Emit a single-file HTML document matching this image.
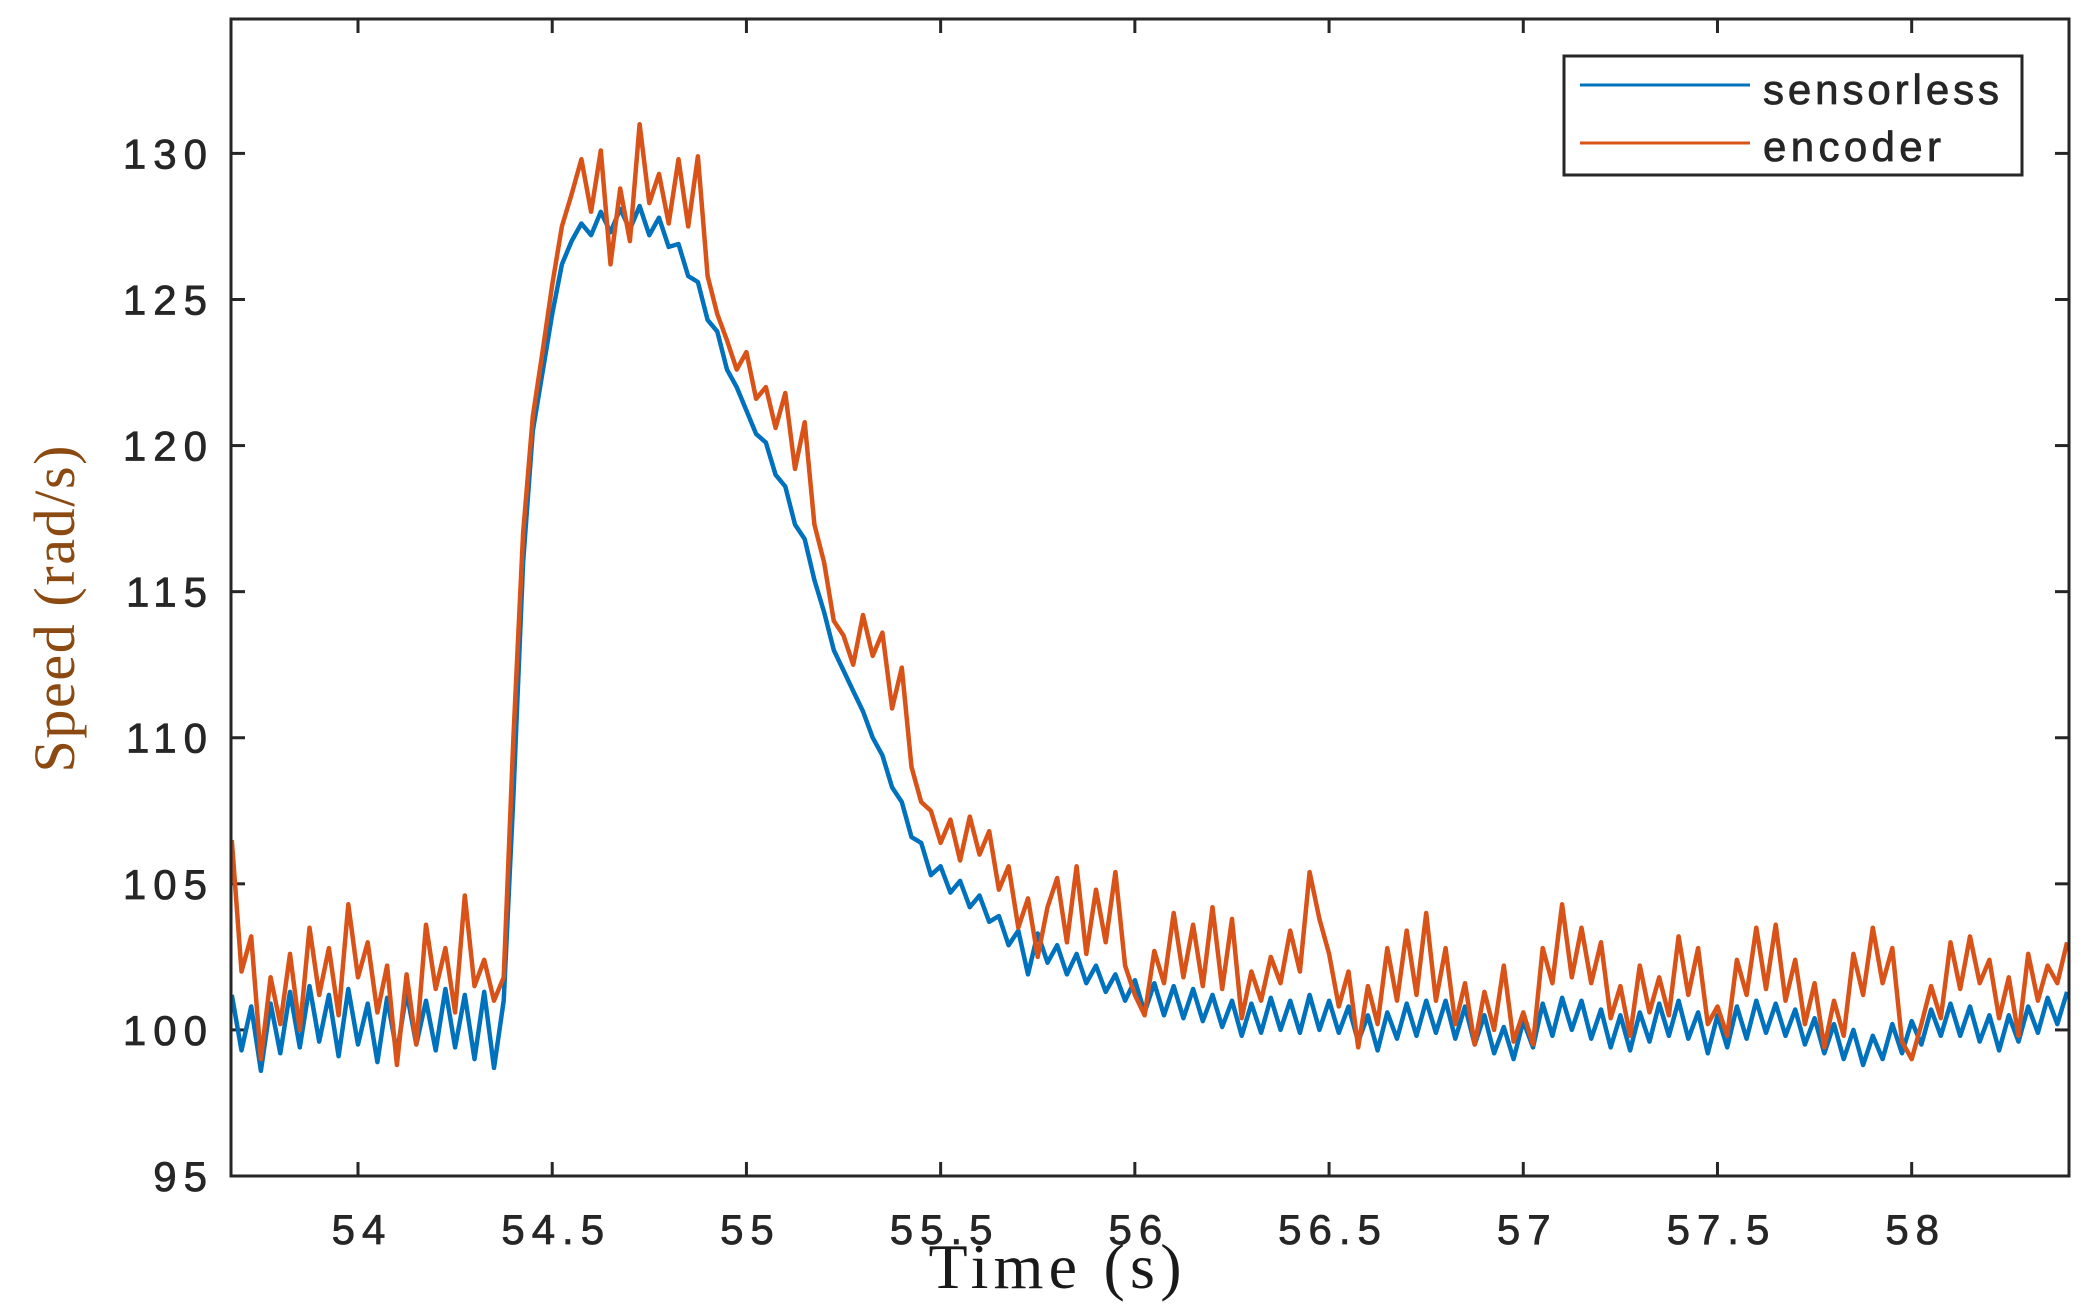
<!DOCTYPE html>
<html><head><meta charset="utf-8"><style>
html,body{margin:0;padding:0;background:#fff;}
svg{display:block;}
.tk{font-family:"Liberation Sans",sans-serif;font-size:42px;fill:#262626;stroke:#262626;stroke-width:0.8px;letter-spacing:7px;}
</style></head><body>
<svg id="chart" width="2083" height="1312" viewBox="0 0 2083 1312" xmlns="http://www.w3.org/2000/svg">
<rect x="0" y="0" width="2083" height="1312" fill="#fff"/>
<g id="ticks"></g>
<g id="series"></g>
<rect x="231" y="19" width="1838" height="1157" fill="none" stroke="#262626" stroke-width="3"/>
<g>
<rect x="1564" y="56" width="458" height="119" fill="#fff" stroke="#262626" stroke-width="3"/>
<line x1="1580" y1="85" x2="1750" y2="85" stroke="#0072BD" stroke-width="3"/>
<text x="1763" y="104" class="tk" style="letter-spacing:2px" textLength="238">sensorless</text>
<line x1="1580" y1="143" x2="1750" y2="143" stroke="#D95319" stroke-width="3"/>
<text x="1763" y="161" class="tk" style="letter-spacing:2px" textLength="180">encoder</text>
</g>
<text transform="translate(74,609) rotate(-90)" text-anchor="middle" font-family="Liberation Serif,serif" font-size="58" fill="#8a4a12" textLength="327">Speed (rad/s)</text>
<text x="1055" y="1288" text-anchor="middle" font-family="Liberation Serif,serif" font-size="64" fill="#1a1a1a" textLength="253">Time (s)</text>
</svg>
<script>
const xTicks=[54,54.5,55,55.5,56,56.5,57,57.5,58];
const xTickLabels=["54","54.5","55","55.5","56","56.5","57","57.5","58"];
const yTicks=[95,100,105,110,115,120,125,130];
const yTickLabels=["95","100","105","110","115","120","125","130"];
const tStart=53.675, tStep=0.025;
const sensorless=[101.2,99.3,100.8,98.6,100.9,99.2,101.3,99.4,101.5,99.6,101.2,99.1,101.4,99.5,100.9,98.9,101.1,99.2,101.3,99.5,101.0,99.3,101.4,99.4,101.2,99.0,101.3,98.7,
101.0,108,116,120.5,122.5,124.5,126.2,127.0,127.6,
127.2,128.0,127.3,128.1,127.4,128.2,127.2,127.8,126.8,126.9,125.8,125.6,124.3,123.9,122.6,122.0,
121.2,120.4,120.1,119.0,118.6,117.3,116.8,115.4,114.3,113.0,112.3,111.6,110.9,110.0,109.4,108.3,107.8,106.6,106.4,105.3,
105.6,104.7,105.1,104.2,104.6,103.7,103.9,102.9,103.4,101.9,103.3,102.3,102.9,101.9,102.6,101.6,102.2,101.3,101.9,101.0,
101.7,100.6,101.6,100.5,101.5,100.4,101.4,100.3,101.2,100.1,101.0,99.8,100.9,99.9,101.1,100.0,101.0,99.9,101.2,100.0,
101.0,99.9,100.8,99.6,100.5,99.3,100.6,99.7,100.9,99.8,101.0,99.9,101.0,99.7,100.8,99.5,100.5,99.2,100.1,99.0,
100.3,99.4,100.9,99.8,101.1,100.0,101.0,99.7,100.7,99.4,100.5,99.3,100.6,99.6,100.9,99.8,101.0,99.7,100.6,99.2,
100.5,99.4,100.8,99.7,101.0,99.9,100.9,99.8,100.7,99.5,100.4,99.2,100.2,99.0,100.0,98.8,99.8,99.0,100.2,99.2,
100.3,99.5,100.7,99.8,100.9,99.8,100.8,99.6,100.5,99.3,100.5,99.6,100.8,99.9,101.1,100.2,101.3];
const encoder=[106.5,102.0,103.2,99.0,101.8,100.2,102.6,100.0,103.5,101.2,102.8,100.5,104.3,101.8,103.0,100.6,102.2,98.8,101.9,99.5,103.6,101.4,102.8,100.6,104.6,101.5,102.4,101.0,
101.8,110,117,121,123.2,125.5,127.5,128.6,129.8,
128.0,130.1,126.2,128.8,127.0,131.0,128.3,129.3,127.6,129.8,127.5,129.9,125.8,124.5,123.6,122.6,
123.2,121.6,122.0,120.6,121.8,119.2,120.8,117.3,116.0,114.0,113.5,112.5,114.2,112.8,113.6,111.0,112.4,109.0,107.8,107.5,
106.4,107.2,105.8,107.3,106.0,106.8,104.8,105.6,103.5,104.5,102.5,104.2,105.2,103.0,105.6,102.6,104.8,103.0,105.4,102.2,
101.2,100.5,102.7,101.6,104.0,101.8,103.6,101.5,104.2,101.4,103.8,100.4,102.0,101.0,102.5,101.6,103.4,102.0,105.4,103.8,
102.6,100.8,102.0,99.4,101.5,100.2,102.8,101.0,103.4,101.2,104.0,101.0,102.8,100.2,101.6,99.5,101.3,100.0,102.2,99.6,
100.6,99.5,102.8,101.6,104.3,101.8,103.5,101.6,103.0,100.4,101.5,99.8,102.2,100.6,101.8,100.5,103.2,101.2,102.8,100.2,
100.8,99.8,102.4,101.2,103.5,101.4,103.6,101.0,102.4,100.2,101.6,99.4,101.0,99.8,102.6,101.2,103.5,101.6,102.8,99.6,
99.0,100.2,101.5,100.4,103.0,101.4,103.2,101.6,102.4,100.4,101.8,99.8,102.6,101.0,102.2,101.6,103.0];

const X0=231,X1=2069,Y0=19,Y1=1176;
const xMin=53.673,xMax=58.405,yMin=95,yMax=134.6;
function sx(t){return X0+(t-xMin)/(xMax-xMin)*(X1-X0);}
function sy(v){return Y1-(v-yMin)/(yMax-yMin)*(Y1-Y0);}
const NS="http://www.w3.org/2000/svg";
const tg=document.getElementById('ticks');
xTicks.forEach((t,i)=>{
  const x=sx(t);
  [[Y1,Y1-14],[Y0,Y0+14]].forEach(([a,b])=>{
    const l=document.createElementNS(NS,'line');
    l.setAttribute('x1',x);l.setAttribute('x2',x);l.setAttribute('y1',a);l.setAttribute('y2',b);
    l.setAttribute('stroke','#262626');l.setAttribute('stroke-width','3');
    
    
    tg.appendChild(l);
  });
  const tx=document.createElementNS(NS,'text');
  tx.setAttribute('x',x+4);tx.setAttribute('y',1244);tx.setAttribute('text-anchor','middle');tx.setAttribute('class','tk');
  tx.textContent=xTickLabels[i];
  
  
  tg.appendChild(tx);
});
yTicks.forEach((v,i)=>{
  const y=sy(v);
  [[X0,X0+14],[X1,X1-14]].forEach(([a,b])=>{
    const l=document.createElementNS(NS,'line');
    l.setAttribute('x1',a);l.setAttribute('x2',b);l.setAttribute('y1',y);l.setAttribute('y2',y);
    l.setAttribute('stroke','#262626');l.setAttribute('stroke-width','3');
    
    
    tg.appendChild(l);
  });
  const tx=document.createElementNS(NS,'text');
  tx.setAttribute('x',214);tx.setAttribute('y',y+15);tx.setAttribute('text-anchor','end');tx.setAttribute('class','tk');
  tx.textContent=yTickLabels[i];
  
  
  tg.appendChild(tx);
});
const sg=document.getElementById('series');
function draw(arr,color,name){
  const pts=arr.map((v,i)=>sx(tStart+i*tStep).toFixed(1)+','+sy(v).toFixed(1)).join(' ');
  const p=document.createElementNS(NS,'polyline');
  p.setAttribute('points',pts);p.setAttribute('fill','none');p.setAttribute('stroke',color);
  p.setAttribute('stroke-width','4.5');p.setAttribute('stroke-linejoin','round');
  
  
  sg.appendChild(p);
}
draw(sensorless,'#0072BD','sensorless-line');
draw(encoder,'#D95319','encoder-line');
</script>
</body></html>
